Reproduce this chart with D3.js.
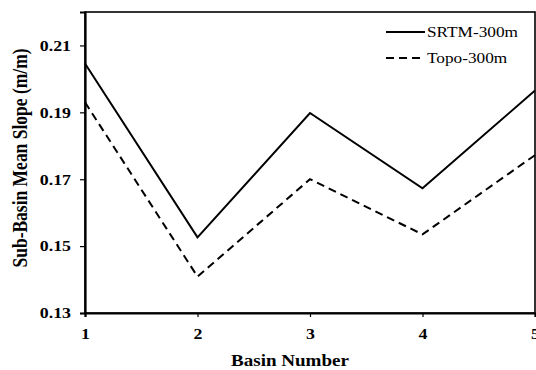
<!DOCTYPE html>
<html>
<head>
<meta charset="utf-8">
<script src="https://cdn.jsdelivr.net/npm/d3@7"></script>
<style>
  html, body { margin: 0; padding: 0; background: #fff; }
  svg { display: block; }
  svg text { font-family: "Liberation Serif", "DejaVu Serif", serif; fill: #000; }
</style>
</head>
<body>
<svg id="chart" width="536" height="370"></svg>
<script>
// Basin numbers and mean slopes per DEM source
const basins = [1, 2, 3, 4, 5];
const srtm300 = [0.2046, 0.1526, 0.1898, 0.1673, 0.1965];
const topo300 = [0.1930, 0.1409, 0.1700, 0.1535, 0.1772];
const yTicks = [0.13, 0.15, 0.17, 0.19, 0.21];
const seriesNames = ["SRTM-300m", "Topo-300m"];

const svg = d3.select("#chart");
const margin = { left: 85, top: 12, right: 1, bottom: 57 };
const W = 536, H = 370;
// Glyphs are drawn slightly wide
const sx = 1.19;

const x = d3.scaleLinear().domain([1, 5]).range([margin.left, W - margin.right]);
const y = d3.scaleLinear().domain([0.13, 0.22]).range([H - margin.bottom, margin.top]);

// Widen a text element about its own anchor point
function widen(sel) {
  sel.each(function () {
    const t = d3.select(this);
    const tx = +t.attr("x") || 0;
    t.attr("x", 0).attr("transform", `translate(${tx},0) scale(${sx},1)`);
  });
}

// Plot frame
svg.append("rect")
  .attr("x", x(1)).attr("y", y(0.22))
  .attr("width", x(5) - x(1)).attr("height", y(0.13) - y(0.22))
  .attr("fill", "none").attr("stroke", "#000").attr("stroke-width", 1.6);

// Y axis
const yAxis = svg.append("g")
  .attr("transform", `translate(${x(1)},0)`)
  .call(d3.axisLeft(y).tickValues(yTicks).tickFormat(d3.format(".2f")).tickSize(5).tickPadding(9));
yAxis.attr("font-family", null);
yAxis.select(".domain").attr("stroke-width", 2.2);
yAxis.selectAll(".tick line").attr("stroke-width", 1.2);
yAxis.selectAll("text")
  .style("font-weight", "bold").style("font-size", "15px")
  .call(widen);

// X axis
const xAxis = svg.append("g")
  .attr("transform", `translate(0,${y(0.13)})`)
  .call(d3.axisBottom(x).tickValues(basins).tickFormat(d3.format("d")).tickSize(4).tickPadding(11));
xAxis.attr("font-family", null);
xAxis.select(".domain").attr("stroke-width", 2.2);
xAxis.selectAll(".tick line").attr("stroke-width", 1.2);
xAxis.selectAll("text")
  .style("font-weight", "bold").style("font-size", "15px")
  .call(widen);

// Axis titles
svg.append("text")
  .attr("transform", `translate(290,366) scale(${sx},1)`)
  .attr("text-anchor", "middle")
  .style("font-weight", "bold").style("font-size", "16px")
  .text("Basin Number");

svg.append("text")
  .attr("transform", `translate(27,158) scale(${sx},1) rotate(-90)`)
  .attr("text-anchor", "middle")
  .style("font-weight", "bold").style("font-size", "17.5px")
  .text("Sub-Basin Mean Slope (m/m)");

// Series lines
const line = d3.line().x((d, i) => x(basins[i])).y(d => y(d));
const dashes = [null, "8,5"];
[srtm300, topo300].forEach((vals, k) => {
  svg.append("path")
    .datum(vals)
    .attr("d", line)
    .attr("fill", "none")
    .attr("stroke", "#000")
    .attr("stroke-width", 2)
    .attr("stroke-dasharray", dashes[k]);
});

// Legend
const legend = svg.append("g");
seriesNames.forEach((name, k) => {
  const ly = 32 + k * 26;
  legend.append("line")
    .attr("x1", 386).attr("x2", 425).attr("y1", ly).attr("y2", ly)
    .attr("stroke", "#000").attr("stroke-width", 2)
    .attr("stroke-dasharray", k === 1 ? "8,5" : null);
  legend.append("text")
    .attr("transform", `translate(427,${ly + 5}) scale(${sx},1)`)
    .style("font-size", "14.5px")
    .text(name);
});
</script>
</body>
</html>
